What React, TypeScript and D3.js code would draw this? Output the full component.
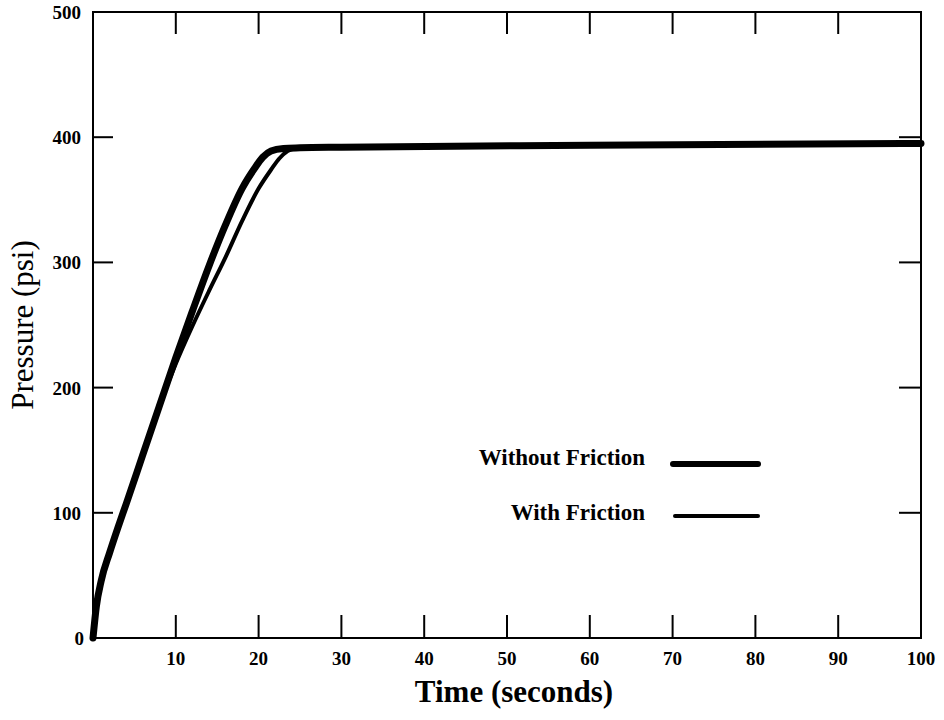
import React from "react";
import * as d3 from "d3";

// time (s) and pressure (psi)
const tNoFriction = [0, 0.4, 1, 2, 3, 4, 6, 8, 10, 12, 14, 16, 18, 19.5, 20.5, 21.5, 23, 25, 30, 60, 100];
const pNoFriction = [0, 25, 46, 68, 88, 107, 146, 185, 224, 261, 297, 330, 359, 375, 384, 389, 391, 391.5, 392, 393.5, 395];

const tFriction = [0, 0.4, 1, 2, 3, 4, 6, 8, 10, 12, 14, 16, 18, 20, 21.5, 22.5, 23.5, 24.5, 25.5, 30, 60, 100];
const pFriction = [0, 25, 46, 68, 88, 107, 146, 185, 219, 249, 277, 304, 333, 359, 374, 383, 389, 391.2, 391.6, 392, 393.5, 395];

const xTicks = [10, 20, 30, 40, 50, 60, 70, 80, 90, 100];
const yTicks = [0, 100, 200, 300, 400, 500];

const legendLabels = ["Without Friction", "With Friction"];

const serif = "'Liberation Serif', 'DejaVu Serif', serif";

export default function App() {
  const width = 944;
  const height = 720;

  const x = d3.scaleLinear().domain([0, 100]).range([93, 921]);
  const y = d3.scaleLinear().domain([0, 500]).range([638, 12]);

  const line = d3
    .line<[number, number]>()
    .x(d => x(d[0]))
    .y(d => y(d[1]))
    .curve(d3.curveMonotoneX);

  const noFric = tNoFriction.map((t, i) => [t, pNoFriction[i]] as [number, number]);
  const fric = tFriction.map((t, i) => [t, pFriction[i]] as [number, number]);

  const inner = xTicks.filter(d => d < 100);
  const innerY = yTicks.filter(d => d > 0 && d < 500);

  return (
    <svg
      width={width}
      height={height}
      style={{ position: "absolute", left: 0, top: 0, background: "#fff" }}
      fontFamily={serif}
    >
      {/* frame */}
      <rect
        x={x(0)}
        y={y(500)}
        width={x(100) - x(0)}
        height={y(0) - y(500)}
        fill="none"
        stroke="#000"
        strokeWidth={2}
      />

      {/* ticks on all four sides, pointing inward */}
      {inner.map(d => (
        <g key={"xt" + d} stroke="#000" strokeWidth={2}>
          <line x1={x(d)} x2={x(d)} y1={y(0)} y2={y(0) - 23} />
          <line x1={x(d)} x2={x(d)} y1={y(500)} y2={y(500) + 22} />
        </g>
      ))}
      {innerY.map(d => (
        <g key={"yt" + d} stroke="#000" strokeWidth={2}>
          <line x1={x(0)} x2={x(0) + 20} y1={y(d)} y2={y(d)} />
          <line x1={x(100)} x2={x(100) - 22} y1={y(d)} y2={y(d)} />
        </g>
      ))}

      {/* tick labels */}
      {xTicks.map(d => (
        <text
          key={"xl" + d}
          x={x(d)}
          y={665}
          textAnchor="middle"
          fontSize={19}
          fontWeight="bold"
        >
          {d}
        </text>
      ))}
      {yTicks.map(d => (
        <text
          key={"yl" + d}
          x={d === 0 ? 84 : 81}
          y={y(d) + 7}
          textAnchor="end"
          fontSize={19}
          fontWeight="bold"
        >
          {d}
        </text>
      ))}

      {/* axis titles */}
      <text x={514} y={702} textAnchor="middle" fontSize={31} fontWeight="bold">
        Time (seconds)
      </text>
      <text
        transform="translate(33,325) rotate(-90)"
        textAnchor="middle"
        fontSize={31}
      >
        Pressure (psi)
      </text>

      {/* curves */}
      <path d={line(fric) ?? ""} fill="none" stroke="#000" strokeWidth={4} strokeLinecap="round" />
      <path d={line(noFric) ?? ""} fill="none" stroke="#000" strokeWidth={7} strokeLinecap="round" />

      {/* legend */}
      <text x={645} y={465} textAnchor="end" fontSize={23} fontWeight="bold">
        {legendLabels[0]}
      </text>
      <line x1={673} x2={758} y1={464} y2={464} stroke="#000" strokeWidth={6} strokeLinecap="round" />
      <text x={645} y={520} textAnchor="end" fontSize={23} fontWeight="bold">
        {legendLabels[1]}
      </text>
      <line x1={675} x2={758} y1={516} y2={516} stroke="#000" strokeWidth={4} strokeLinecap="round" />
    </svg>
  );
}
